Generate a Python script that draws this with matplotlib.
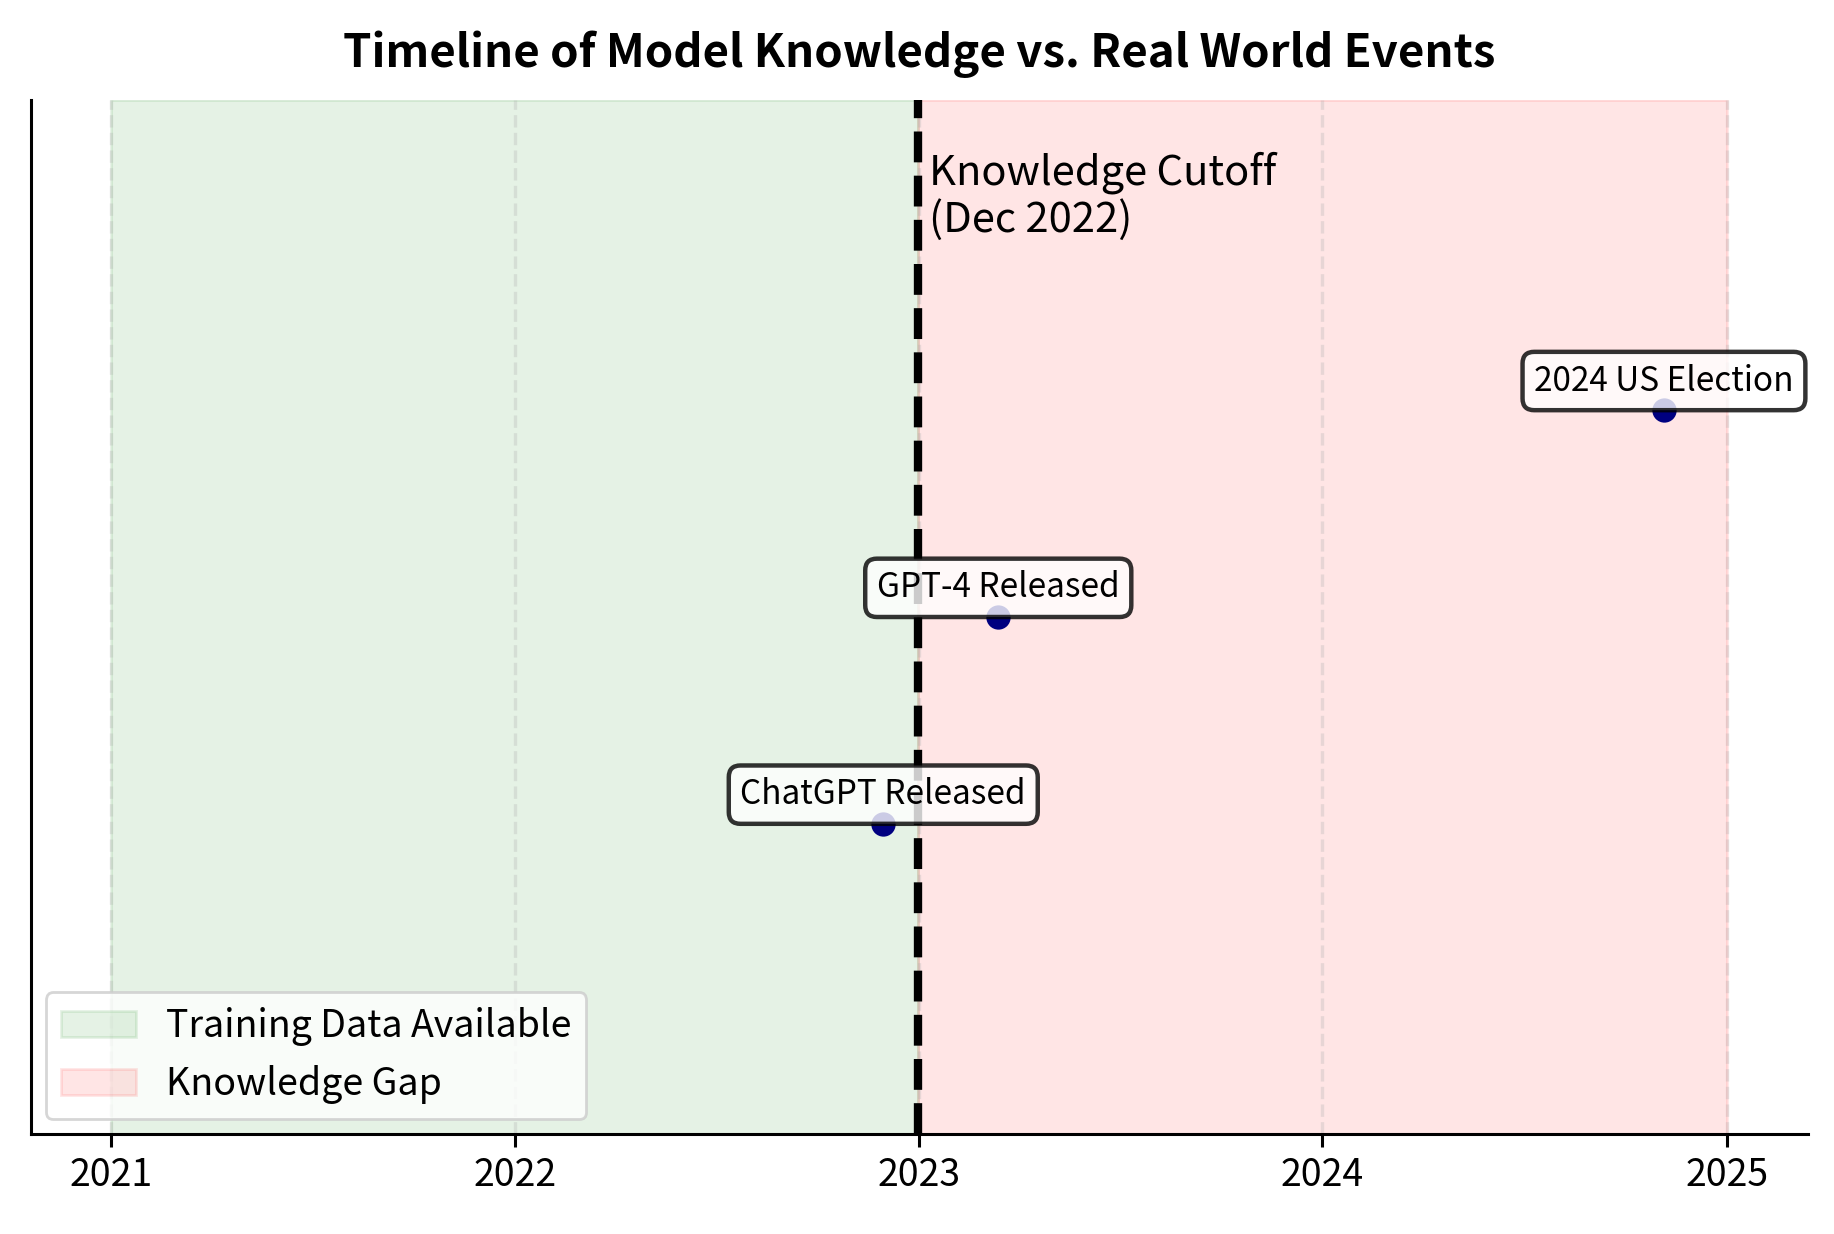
import datetime as dt
import matplotlib
matplotlib.use("Agg")
import matplotlib.pyplot as plt
import matplotlib.dates as mdates

plt.rcParams['font.family'] = ['Noto Sans CJK SC', 'DejaVu Sans']

# ---------------- DATA ----------------
train_start = dt.datetime(2021, 1, 1)
cutoff = dt.datetime(2022, 12, 31)
gap_end = dt.datetime(2025, 1, 1)

event_names = ["ChatGPT Released", "GPT-4 Released", "2024 US Election"]
event_dates = [dt.datetime(2022, 11, 30), dt.datetime(2023, 3, 14), dt.datetime(2024, 11, 5)]
event_levels = [0.3, 0.5, 0.7]

# ---------------- PLOT ----------------
fig = plt.figure(figsize=(9.17, 6.17), dpi=200)
ax = fig.add_axes([0.0167, 0.081, 0.9690, 0.838])

ax.axvspan(train_start, cutoff, color='green', alpha=0.1, label='Training Data Available')
ax.axvspan(cutoff, gap_end, color='red', alpha=0.1, label='Knowledge Gap')
ax.axvline(cutoff, color='black', linestyle='--', linewidth=3)

ax.text(cutoff + dt.timedelta(days=10), 0.95, 'Knowledge Cutoff\n(Dec 2022)',
        fontsize=15, va='top', ha='left', linespacing=1.15)

ax.scatter(event_dates, event_levels, color='navy', s=60, zorder=3)
for name, d, lvl in zip(event_names, event_dates, event_levels):
    ax.annotate(name, (d, lvl), xytext=(0, 10.5), textcoords='offset points',
                ha='center', va='center', fontsize=12, zorder=4,
                bbox=dict(boxstyle='round,pad=0.35', fc='white', ec='black', lw=1.6, alpha=0.8))

ax.set_ylim(0, 1)
ax.set_yticks([])
ax.xaxis.set_major_locator(mdates.YearLocator())
ax.xaxis.set_major_formatter(mdates.DateFormatter('%Y'))
ax.tick_params(axis='x', labelsize=13.5, length=4.5, width=1.1)
ax.grid(axis='x', linestyle='--', linewidth=1.2, alpha=0.3)
for side in ['top', 'right']:
    ax.spines[side].set_visible(False)
for side in ['left', 'bottom']:
    ax.spines[side].set_linewidth(1.1)

ax.set_title('Timeline of Model Knowledge vs. Real World Events',
             fontsize=16.4, fontweight='bold', pad=12)
ax.legend(loc='lower left', fontsize=13.5, borderaxespad=0.4)

fig.savefig('out.png', dpi=200)
